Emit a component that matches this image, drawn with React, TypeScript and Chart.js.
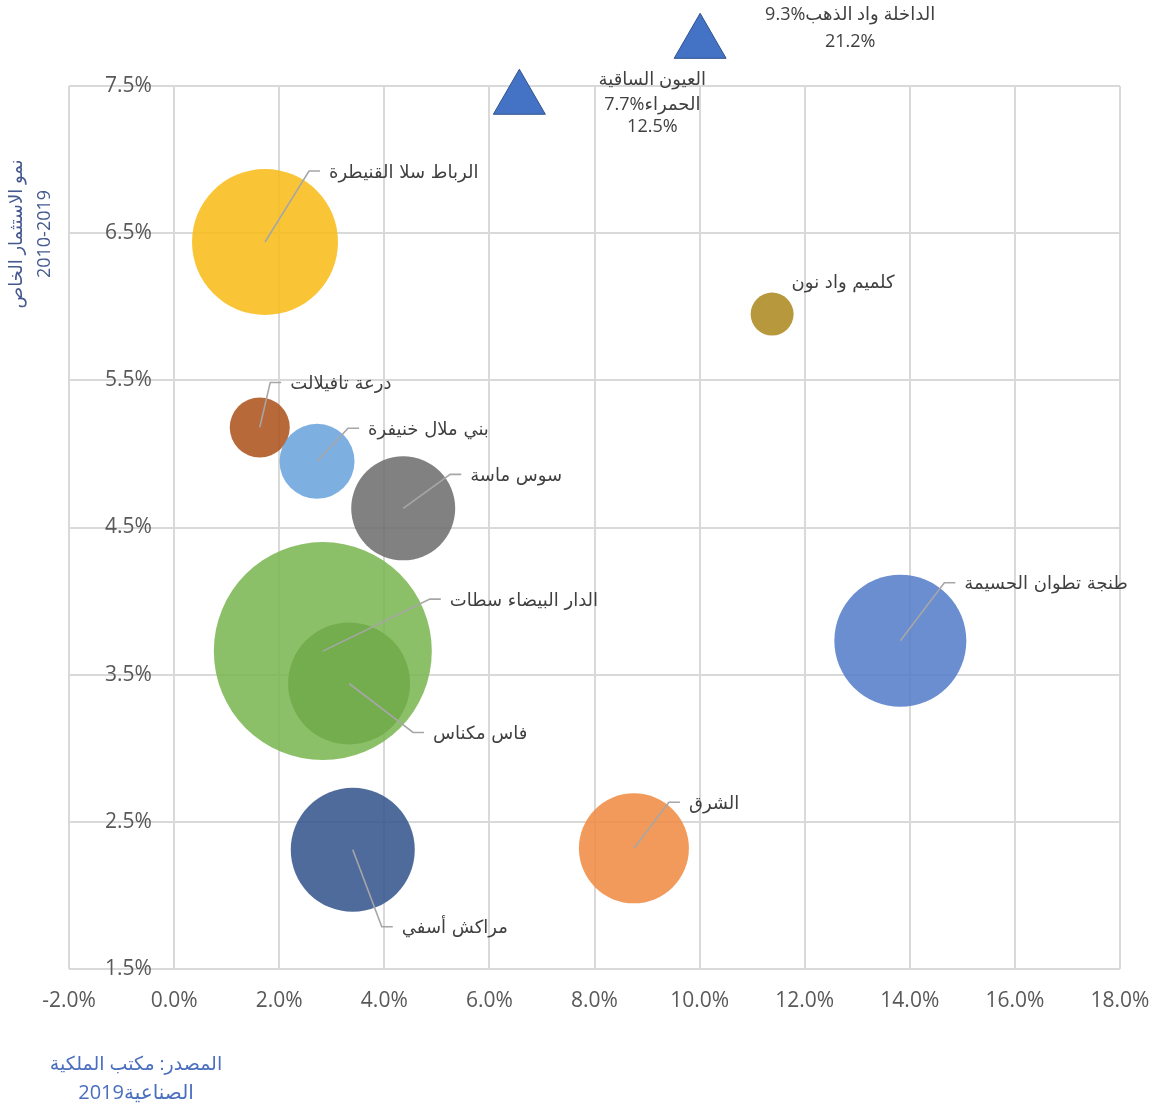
import React, { useEffect, useRef } from 'react';
import { Chart, registerables } from 'chart.js';

Chart.register(...registerables);

// ---------- data ----------
const regions = [
  'الرباط سلا القنيطرة',
  'درعة تافيلالت',
  'بني ملال خنيفرة',
  'سوس ماسة',
  'الدار البيضاء سطات',
  'فاس مكناس',
  'مراكش أسفي',
  'الشرق',
  'طنجة تطوان الحسيمة',
  'كلميم واد نون',
];
// x: growth axis (%), y: private investment growth 2010-2019 (%)
const xValues = [1.73, 1.63, 2.72, 4.36, 2.83, 3.33, 3.4, 8.75, 13.82, 11.38];
const yValues = [6.44, 5.18, 4.95, 4.63, 3.66, 3.44, 2.31, 2.32, 3.73, 5.95];
const bubbleSizes = [73, 30, 37.5, 52, 109, 61, 62, 55, 66, 21.5];

// out-of-range regions shown as triangles at the chart edge
const outlierNames = ['العيون الساقية الحمراء', 'الداخلة واد الذهب'];
const outlierX = [6.57, 10.01];
const outlierY = [7.41, 7.79];
// visual (left-to-right) order of each label line
const outlierLabelLines = [
  ['العيون الساقية', '7.7%الحمراء', '12.5%'],
  ['9.3%الداخلة واد الذهب', '21.2%'],
];

const xTicks = { min: -2, max: 18, step: 2 };
const yTicks = { min: 1.5, max: 7.5, step: 1 };

const yTitleLines = ['نمو الاستثمار الخاص', '2010-2019'];
const sourceLines = ['المصدر: مكتب الملكية', 'الصناعية2019'];

// ---------- styles ----------
const bubbleColors = [
  'rgba(248,187,20,0.85)',
  'rgba(171,79,23,0.85)',
  'rgba(102,162,219,0.85)',
  'rgba(107,107,107,0.85)',
  'rgba(120,181,77,0.85)',
  'rgba(112,170,74,0.85)',
  'rgba(48,81,139,0.85)',
  'rgba(239,136,63,0.85)',
  'rgba(80,122,199,0.85)',
  'rgba(170,134,26,0.85)',
];
// leader elbow offset from bubble centre (px)
const labelLayout = [
  { dx: 44, dy: -71, leader: true },
  { dx: 10.5, dy: -45, leader: true },
  { dx: 31, dy: -33, leader: true },
  { dx: 47, dy: -34, leader: true },
  { dx: 107, dy: -52, leader: true },
  { dx: 64, dy: 49, leader: true },
  { dx: 29, dy: 77, leader: true },
  { dx: 35, dy: -46, leader: true },
  { dx: 44, dy: -58, leader: true },
  { dx: 19.5, dy: -33, leader: false },
];
const outlierLabelLayout = [
  { dx: 133, dys: [-19, 6, 28] },
  { dx: 150, dys: [-28, -1] },
];

const FONT = "'Open Sans', 'DejaVu Sans', sans-serif";
const AR_FONT = "'DejaVu Sans', sans-serif";
const GRID = '#D9D9D9';
const TICK_COLOR = '#595959';
const LABEL_COLOR = '#404040';
const LEADER_COLOR = '#A6A6A6';

const W = 1160;
const H = 1112;

const pct = (v: any) => Number(v).toFixed(1) + '%';

const annotationPlugin = {
  id: 'annotations',
  afterDatasetsDraw(chart: any) {
    const ctx = chart.ctx as CanvasRenderingContext2D;
    const xs = chart.scales.x;
    const ys = chart.scales.y;
    ctx.save();
    regions.forEach((name, i) => {
      const cx = xs.getPixelForValue(xValues[i]);
      const cy = ys.getPixelForValue(yValues[i]);
      const L = labelLayout[i];
      const ex = cx + L.dx;
      const ey = cy + L.dy;
      let tx = ex;
      if (L.leader) {
        ctx.strokeStyle = LEADER_COLOR;
        ctx.lineWidth = 1.6;
        ctx.beginPath();
        ctx.moveTo(cx, cy);
        ctx.lineTo(ex, ey);
        ctx.lineTo(ex + 11, ey);
        ctx.stroke();
        tx = ex + 20;
      }
      ctx.fillStyle = LABEL_COLOR;
      ctx.font = `18px ${AR_FONT}`;
      ctx.direction = 'rtl';
      ctx.textAlign = 'left';
      ctx.textBaseline = 'middle';
      ctx.fillText(name, tx, ey + 2);
    });
    outlierNames.forEach((_, i) => {
      const px = xs.getPixelForValue(outlierX[i]);
      const py = ys.getPixelForValue(outlierY[i]);
      const L = outlierLabelLayout[i];
      ctx.fillStyle = LABEL_COLOR;
      ctx.font = `18px ${FONT}`;
      ctx.direction = 'ltr';
      ctx.textAlign = 'center';
      ctx.textBaseline = 'middle';
      outlierLabelLines[i].forEach((line, j) => {
        ctx.fillText(line, px + L.dx, py + L.dys[j]);
      });
    });
    ctx.restore();
  },
  afterDraw(chart: any) {
    const ctx = chart.ctx as CanvasRenderingContext2D;
    ctx.save();
    ctx.fillStyle = '#46598F';
    ctx.font = `18px ${FONT}`;
    ctx.textAlign = 'center';
    ctx.textBaseline = 'middle';
    ctx.translate(17, 234);
    ctx.rotate(-Math.PI / 2);
    ctx.direction = 'rtl';
    ctx.fillText(yTitleLines[0], 0, 0);
    ctx.direction = 'ltr';
    ctx.fillText(yTitleLines[1], 0, 28);
    ctx.restore();
    ctx.save();
    ctx.fillStyle = '#4A6FBF';
    ctx.textAlign = 'center';
    ctx.textBaseline = 'middle';
    ctx.direction = 'rtl';
    ctx.font = `19px ${FONT}`;
    ctx.fillText(sourceLines[0], 136, 1065);
    ctx.direction = 'ltr';
    ctx.font = `20px ${FONT}`;
    ctx.fillText(sourceLines[1], 136, 1093);
    ctx.restore();
  },
};

export default function App() {
  const ref = useRef<HTMLCanvasElement>(null);
  useEffect(() => {
    const canvas = ref.current;
    if (!canvas) return;
    const chart = new Chart(canvas, {
      type: 'bubble',
      data: {
        datasets: [
          {
            label: 'regions',
            data: regions.map((_, i) => ({ x: xValues[i], y: yValues[i], r: bubbleSizes[i] })),
            backgroundColor: bubbleColors,
            borderWidth: 0,
            hoverRadius: 0,
            clip: false,
          } as any,
          {
            type: 'scatter',
            label: 'outliers',
            data: outlierNames.map((_, i) => ({ x: outlierX[i], y: outlierY[i] })),
            pointStyle: 'triangle',
            pointRadius: 30,
            pointHoverRadius: 60,
            backgroundColor: '#4472C4',
            borderColor: '#2F528F',
            borderWidth: 1,
            showLine: false,
            clip: false,
          } as any,
        ],
      },
      options: {
        responsive: false,
        animation: false,
        events: [],
        layout: { autoPadding: false, padding: { left: 33, right: 40, top: 86, bottom: 100 } },
        plugins: { legend: { display: false }, tooltip: { enabled: false } },
        scales: {
          x: {
            type: 'linear',
            min: xTicks.min,
            max: xTicks.max,
            ticks: {
              stepSize: xTicks.step,
              callback: pct,
              color: TICK_COLOR,
              font: { family: FONT, size: 21 },
              padding: 19,
              maxRotation: 0,
              autoSkip: false,
            },
            grid: { color: GRID, lineWidth: 2, drawTicks: false },
            border: { display: false },
            afterFit: (s: any) => {
              s.height = 43;
              s.paddingLeft = 0;
              s.paddingRight = 0;
            },
          },
          y: {
            type: 'linear',
            min: yTicks.min,
            max: yTicks.max,
            ticks: {
              stepSize: yTicks.step,
              callback: pct,
              color: TICK_COLOR,
              font: { family: FONT, size: 21 },
              mirror: true,
              padding: 36,
            },
            grid: { color: GRID, lineWidth: 2, drawTicks: false },
            border: { display: false },
            afterFit: (s: any) => {
              s.width = 36;
              s.paddingTop = 0;
              s.paddingBottom = 0;
            },
          },
        },
      } as any,
      plugins: [annotationPlugin],
    });
    return () => chart.destroy();
  }, []);
  return (
    <div style={{ position: 'absolute', left: 0, top: 0, width: W, height: H, overflow: 'hidden', background: '#fff' }}>
      <canvas ref={ref} width={W} height={H} style={{ display: 'block' }} />
    </div>
  );
}
